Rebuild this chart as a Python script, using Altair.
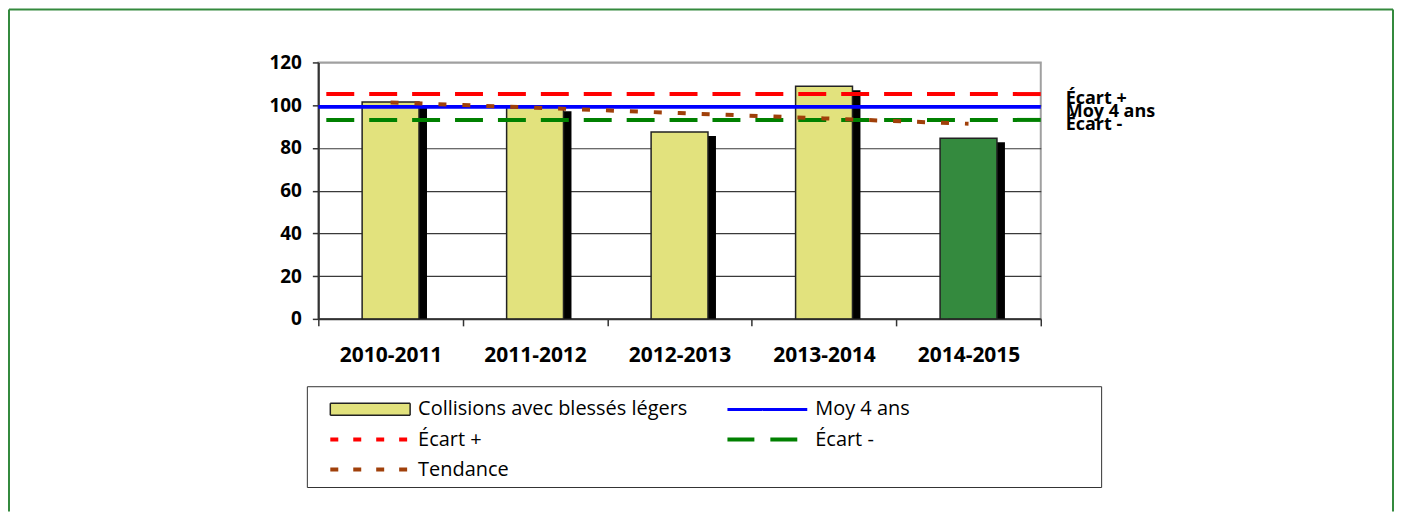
import altair as alt
import pandas as pd

# ---- data ----
categories = ["2010-2011", "2011-2012", "2012-2013", "2013-2014", "2014-2015"]
collisions = [101.5, 99.0, 87.4, 108.8, 84.5]
moy_4_ans = 99.2
ecart_plus = 105.2
ecart_moins = 93.1
tendance = [101.3, 98.8, 96.3, 93.8, 91.3]
current_season = "2014-2015"

series_names = ["Collisions avec blessés légers", "Moy 4 ans", "Écart +", "Écart -", "Tendance"]
ref_names = ["Moy 4 ans", "Écart +", "Écart -"]
ref_values = [moy_4_ans, ecart_plus, ecart_moins]

# ---- styles ----
FONT = "Open Sans"
BAR_FILL = "#E2E27D"
BAR_CURRENT = "#348A3E"
BLUE, RED, GREEN, BROWN = "#0000FF", "#FF0000", "#008000", "#A0400A"
FRAME = "#348A3E"

bars_df = pd.DataFrame({"saison": categories, "valeur": collisions})
ref_df = pd.DataFrame({"serie": ref_names, "valeur": ref_values})
trend_df = pd.DataFrame({"saison": categories, "valeur": tendance})
legend_df = pd.DataFrame({"serie": series_names})

x_enc = alt.X(
    "saison:N", sort=categories, title=None,
    scale=alt.Scale(domain=categories, paddingInner=0, paddingOuter=0),
    axis=alt.Axis(labelAngle=0, tickBand="extent", labelFont=FONT, labelFontSize=21,
                  labelFontWeight="bold", labelColor="black", domainColor="#333333",
                  domainWidth=2, tickColor="#333333", tickWidth=1.5, tickSize=7,
                  labelPadding=19, grid=False),
)
y_enc = alt.Y(
    "valeur:Q", title=None,
    scale=alt.Scale(domain=[0, 120], nice=False),
    axis=alt.Axis(values=[0, 20, 40, 60, 80, 100, 120], labelFont=FONT, labelFontSize=19,
                  labelFontWeight="bold", labelColor="black", labelPadding=11,
                  tickSize=6, tickColor="#333333", tickWidth=1.5,
                  domainColor="#333333", domainWidth=2,
                  gridColor={"condition": {"test": "datum.value === 120", "value": "#A0A0A0"},
                             "value": "#3A3A3A"},
                  gridWidth=1.2),
)

shadow = alt.Chart(bars_df).mark_bar(size=57, color="black", xOffset=8, yOffset=4, clip=True).encode(
    x=x_enc, y=y_enc
)
bars = alt.Chart(bars_df).mark_bar(size=57, stroke="#222222", strokeWidth=1.5).encode(
    x=x_enc, y=y_enc,
    color=alt.condition(alt.datum.saison == current_season, alt.value(BAR_CURRENT), alt.value(BAR_FILL)),
)

ref_styles = {"Moy 4 ans": (BLUE, [1, 0]), "Écart +": (RED, [28, 15]), "Écart -": (GREEN, [28, 15])}
rule_layers = [
    alt.Chart(ref_df).transform_filter(alt.datum.serie == name).mark_rule(
        strokeWidth=4, color=col, strokeDash=dash).encode(y=y_enc)
    for name, (col, dash) in ref_styles.items()
]
trend = alt.Chart(trend_df).mark_line(strokeWidth=4, strokeDash=[8, 16], color=BROWN).encode(
    x=x_enc, y=y_enc
)
labels = alt.Chart(ref_df).mark_text(
    align="left", baseline="middle", dy=5, font=FONT, fontSize=18, fontWeight="bold", color="black"
).encode(y=y_enc, x=alt.value(749), text="serie:N")

# ---- legend (native legend, merged over fill/stroke/shape/dash/width) ----
LEG = alt.Legend(
    orient="none", legendX=10, legendY=336, columns=2, direction="horizontal", title=None,
    symbolSize=400, labelFont=FONT, labelFontSize=20, labelColor="black",
    labelOffset=66, labelLimit=0, rowPadding=8, columnPadding=31, padding=0,
    symbolOpacity=1,
)
legend_layer = alt.Chart(legend_df).transform_filter("false").mark_point(filled=True, opacity=1).encode(
    fill=alt.Fill("serie:N", legend=LEG,
                  scale=alt.Scale(domain=series_names,
                                  range=[BAR_FILL, "transparent", "transparent", "transparent", "transparent"])),
    stroke=alt.Stroke("serie:N", legend=LEG,
                      scale=alt.Scale(domain=series_names, range=["#222222", BLUE, RED, GREEN, BROWN])),
    shape=alt.Shape("serie:N", legend=LEG,
                    scale=alt.Scale(domain=series_names,
                                    range=["M-1,-0.6H7V0.6H-1Z", "M-1,0H7", "M-1,0H7", "M-1,0H7", "M-1,0H7"])),
    strokeDash=alt.StrokeDash("serie:N", legend=LEG,
                              scale=alt.Scale(domain=series_names,
                                              range=[[1, 0], [1, 0], [8, 15], [27, 16], [8, 15]])),
    strokeWidth=alt.StrokeWidth("serie:N", legend=LEG,
                                scale=alt.Scale(type="ordinal", domain=series_names,
                                                range=[1.5, 3, 4, 4, 4])),
)

# ---- decorations: outer green frame and legend box ----
one = alt.Data(values=[{}])
frame_left = alt.Chart(one).mark_rule(color=FRAME, strokeWidth=2).encode(
    x=alt.value(-310), y=alt.value(-53), y2=alt.value(450))
frame_top = alt.Chart(one).mark_rule(color=FRAME, strokeWidth=2).encode(
    x=alt.value(-310), x2=alt.value(1077), y=alt.value(-53))
frame_right = alt.Chart(one).mark_rule(color=FRAME, strokeWidth=2).encode(
    x=alt.value(1077), y=alt.value(-53), y2=alt.value(450))
legend_box = alt.Chart(one).mark_rect(filled=False, stroke="#333333", strokeWidth=1).encode(
    x=alt.value(-11), x2=alt.value(785), y=alt.value(325), y2=alt.value(426))

chart = alt.layer(
    shadow, bars, *rule_layers, trend, labels, legend_layer,
    frame_left, frame_top, frame_right, legend_box
).properties(
    width=724, height=257, padding=0, background="white"
).configure_view(
    stroke="#A0A0A0", strokeWidth=2
)

chart.save("out.html", embed_options={"renderer": "svg", "actions": False})
